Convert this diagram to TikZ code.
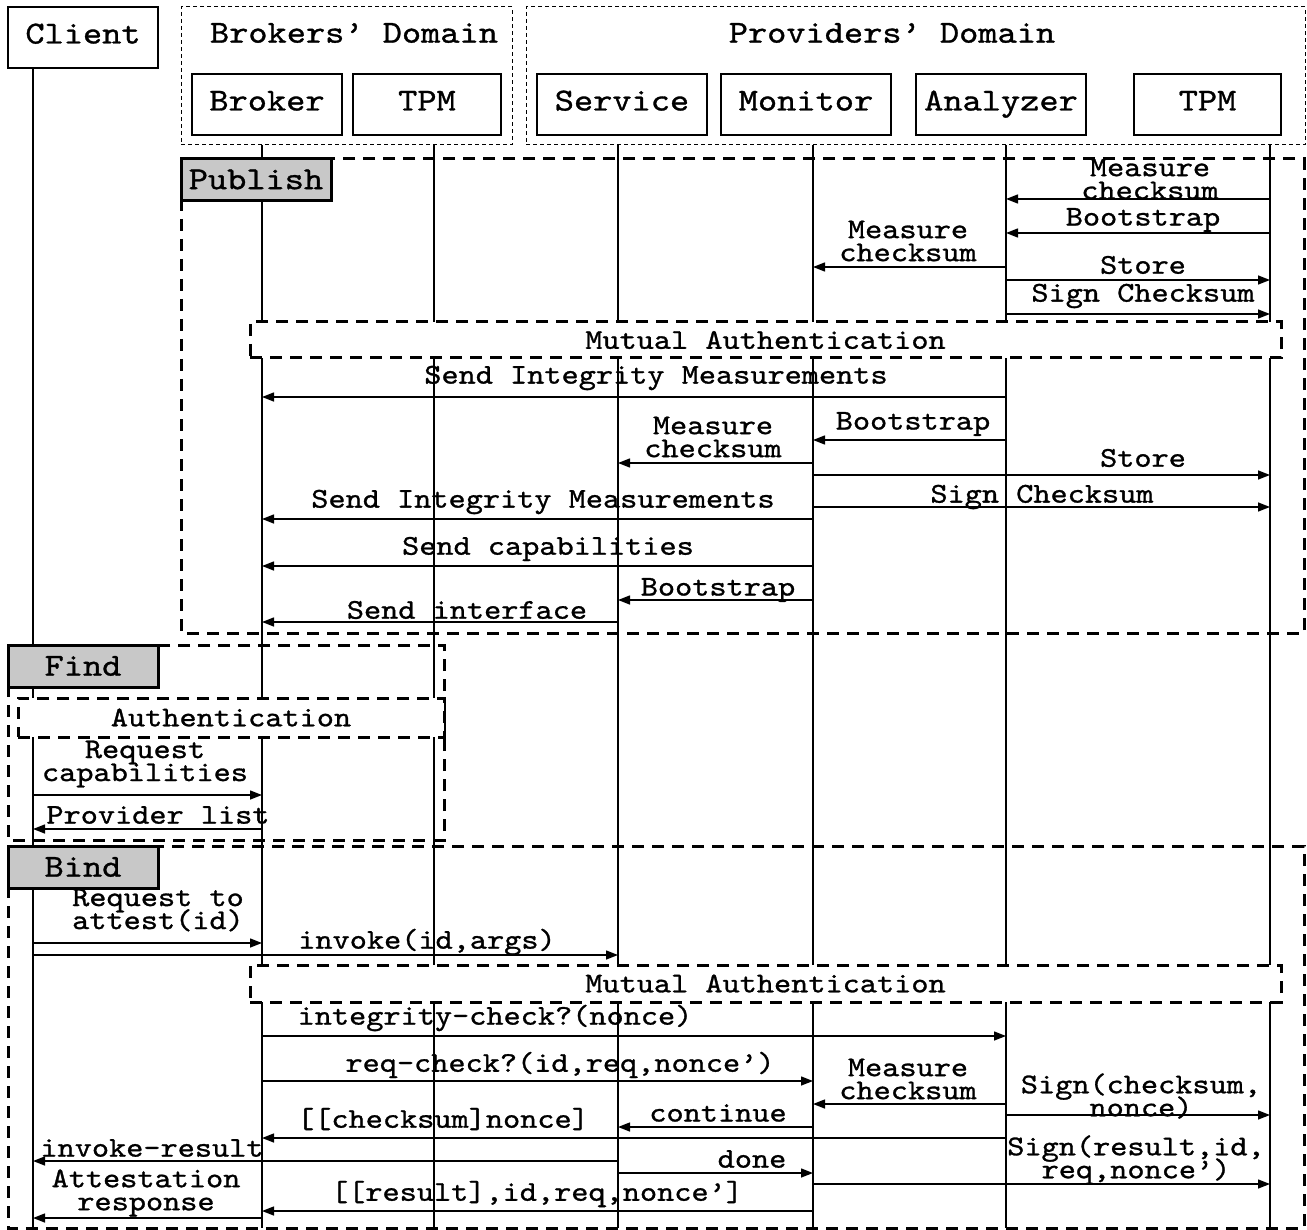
\documentclass[tikz,border=0pt]{standalone}
\usepackage{fontspec}
\newfontfamily\cour{lmmono10-regular.otf}[FakeStretch=1.143,FakeBold=1]
\usetikzlibrary{arrows.meta}
\definecolor{tagGray}{HTML}{C8C8C8}
\begin{document}
\begin{tikzpicture}[x=0.5pt,y=-0.5pt,
  hdrbox/.style={draw, line width=0.75pt, font=\cour\fontsize{16}{19}\selectfont,
    text height=10pt, text depth=4pt, inner sep=0pt, minimum height=30.5pt},
  htext/.style={font=\cour\fontsize{16}{19}\selectfont, inner sep=0pt},
  domainbox/.style={draw, line width=0.5pt, dash pattern=on 2pt off 1.5pt, inner sep=0pt},
  seqframe/.style={line width=1.5pt, dash pattern=on 6pt off 4pt},
  tagbox/.style={draw, fill=tagGray, line width=1.5pt, font=\cour\fontsize{16}{19}\selectfont,
    inner sep=0pt, minimum width=75pt, minimum height=21pt},
  mabox/.style={draw, fill=white, line width=1.5pt, dash pattern=on 6pt off 4pt,
    font=\cour\fontsize{14.3}{11.5}\selectfont, inner sep=0pt},
  lifeline/.style={line width=0.7pt},
  msgline/.style={line width=0.7pt, -{Triangle[length=6pt,width=4.5pt]}},
  msglbl/.style={font={\cour\fontsize{14.3}{11.5}\selectfont\lineskiplimit=-30pt\lineskip=0pt},
    align=center, inner sep=0pt}
]
\useasboundingbox (0,0) rectangle (1307,1230);

% domains
\node[domainbox, minimum width=165.5pt, minimum height=69pt] (bdom) at (346.5,76) {};
\node[htext] (bdomt) at (354,33) {Brokers’ Domain};
\node[domainbox, minimum width=389.5pt, minimum height=69pt] (pdom) at (915.5,76) {};
\node[htext] (pdomt) at (892,33) {Providers’ Domain};

% headers
\node[hdrbox, minimum width=75pt] (client) at (83,37.5) {Client};
\node[hdrbox, minimum width=75pt] (broker) at (267,104.5) {Broker};
\node[hdrbox, minimum width=74pt] (tpmb) at (427,104.5) {TPM};
\node[hdrbox, minimum width=85pt] (service) at (622,104.5) {Service};
\node[hdrbox, minimum width=85pt] (monitor) at (806,104.5) {Monitor};
\node[hdrbox, minimum width=85pt] (analyzer) at (1001,104.5) {Analyzer};
\node[hdrbox, minimum width=73.5pt] (tpmp) at (1207.5,104.5) {TPM};

% lifelines
\coordinate (Lc) at (33,68);   \coordinate (Lce) at (33,1228);
\coordinate (Lb) at (262,145); \coordinate (Lbe) at (262,1228);
\coordinate (Lt) at (434,145); \coordinate (Lte) at (434,1228);
\coordinate (Ls) at (618,145); \coordinate (Lse) at (618,1228);
\coordinate (Lm) at (813,145); \coordinate (Lme) at (813,1228);
\coordinate (La) at (1006,145); \coordinate (Lae) at (1006,1228);
\coordinate (Lp) at (1270,145); \coordinate (Lpe) at (1270,1228);
\draw[lifeline] (Lc) -- (Lce);
\draw[lifeline] (Lb) -- (Lbe);
\draw[lifeline] (Lt) -- (Lte);
\draw[lifeline] (Ls) -- (Lse);
\draw[lifeline] (Lm) -- (Lme);
\draw[lifeline] (La) -- (Lae);
\draw[lifeline] (Lp) -- (Lpe);

% frames
\draw[seqframe] (181,159) rectangle (1304,633);
\draw[seqframe] (8,645) rectangle (444,840);
\draw[seqframe] (8,846) rectangle (1304,1228);

% boxes over lifelines
\node[mabox, minimum width=515.5pt, minimum height=18pt] (ma1) at (765.5,340) {Mutual Authentication};
\node[mabox, minimum width=515.5pt, minimum height=18.5pt] (ma2) at (765.5,983.5) {Mutual Authentication};
\node[mabox, minimum width=213pt, minimum height=19.5pt] (auth) at (231,717.5) {Authentication};

% tags
\node[tagbox] (publish) at (256,179.5) {Publish};
\node[tagbox] (find) at (83,666) {Find};
\node[tagbox] (bind) at (83,867) {Bind};

% Publish messages
\draw[msgline] (Lp |- 0,199) -- (La |- 0,199) node[msglbl] (m1) at (1150,179) {Measure\\checksum};
\draw[msgline] (Lp |- 0,233) -- (La |- 0,233) node[msglbl] (m2) at (1143,220) {Bootstrap};
\draw[msgline] (La |- 0,267) -- (Lm |- 0,267) node[msglbl] (m3) at (908,241) {Measure\\checksum};
\draw[msgline] (La |- 0,280) -- (Lp |- 0,280) node[msglbl] (m4) at (1143,265) {Store};
\draw[msgline] (La |- 0,314) -- (Lp |- 0,314) node[msglbl] (m5) at (1143,296) {Sign Checksum};
\draw[msgline] (La |- 0,397) -- (Lb |- 0,397) node[msglbl] (m6) at (656,378) {Send Integrity Measurements};
\draw[msgline] (La |- 0,440) -- (Lm |- 0,440) node[msglbl] (m7) at (913,424) {Bootstrap};
\draw[msgline] (Lm |- 0,463) -- (Ls |- 0,463) node[msglbl] (m8) at (713,437) {Measure\\checksum};
\draw[msgline] (Lm |- 0,475) -- (Lp |- 0,475) node[msglbl] (m9) at (1143,458) {Store};
\draw[msgline] (Lm |- 0,507) -- (Lp |- 0,507) node[msglbl] (m10) at (1042,497) {Sign Checksum};
\draw[msgline] (Lm |- 0,519) -- (Lb |- 0,519) node[msglbl] (m11) at (543,502) {Send Integrity Measurements};
\draw[msgline] (Lm |- 0,566) -- (Lb |- 0,566) node[msglbl] (m12) at (548,549) {Send capabilities};
\draw[msgline] (Lm |- 0,600) -- (Ls |- 0,600) node[msglbl] (m13) at (718,590) {Bootstrap};
\draw[msgline] (Ls |- 0,622) -- (Lb |- 0,622) node[msglbl] (m14) at (467,610) {Send interface};

% Find messages
\draw[msgline] (Lc |- 0,795) -- (Lb |- 0,795) node[msglbl] (f1) at (145,764) {Request\\capabilities};
\draw[msgline] (Lb |- 0,829) -- (Lc |- 0,829) node[msglbl] (f2) at (158,815) {Provider list};

% Bind messages
\draw[msgline] (Lc |- 0,943) -- (Lb |- 0,943) node[msglbl] (b1) at (158,910) {Request to\\attest(id)};
\draw[msgline] (Lc |- 0,955) -- (Ls |- 0,955) node[msglbl] (b2) at (427,942) {invoke(id,args)};
\draw[msgline] (Lb |- 0,1036) -- (La |- 0,1036) node[msglbl] (b3) at (495,1018) {integrity-check?(nonce)};
\draw[msgline] (Lb |- 0,1081) -- (Lm |- 0,1081) node[msglbl] (b4) at (560,1065) {req-check?(id,req,nonce’)};
\draw[msgline] (La |- 0,1104) -- (Lm |- 0,1104) node[msglbl] (b5) at (908,1079) {Measure\\checksum};
\draw[msgline] (La |- 0,1115) -- (Lp |- 0,1115) node[msglbl] (b6) at (1141,1096) {Sign(checksum,\\nonce)};
\draw[msgline] (Lm |- 0,1127) -- (Ls |- 0,1127) node[msglbl] (b7) at (718,1113) {continue};
\draw[msgline] (La |- 0,1138) -- (Lb |- 0,1138) node[msglbl] (b8) at (443,1119) {[[checksum]nonce]};
\draw[msgline] (Ls |- 0,1161) -- (Lc |- 0,1161) node[msglbl] (b9) at (152,1148) {invoke-result};
\draw[msgline] (Ls |- 0,1173) -- (Lm |- 0,1173) node[msglbl] (b10) at (752,1159) {done};
\draw[msgline] (Lm |- 0,1184) -- (Lp |- 0,1184) node[msglbl] (b11) at (1136,1160) {Sign(result,id,\\req,nonce’)};
\draw[msgline] (Lm |- 0,1211) -- (Lb |- 0,1211) node[msglbl] (b12) at (537,1194) {[[result],id,req,nonce’]};
\draw[msgline] (Lb |- 0,1218) -- (Lc |- 0,1218) node[msglbl] (b13) at (146,1193) {Attestation\\response};
\end{tikzpicture}
\end{document}
